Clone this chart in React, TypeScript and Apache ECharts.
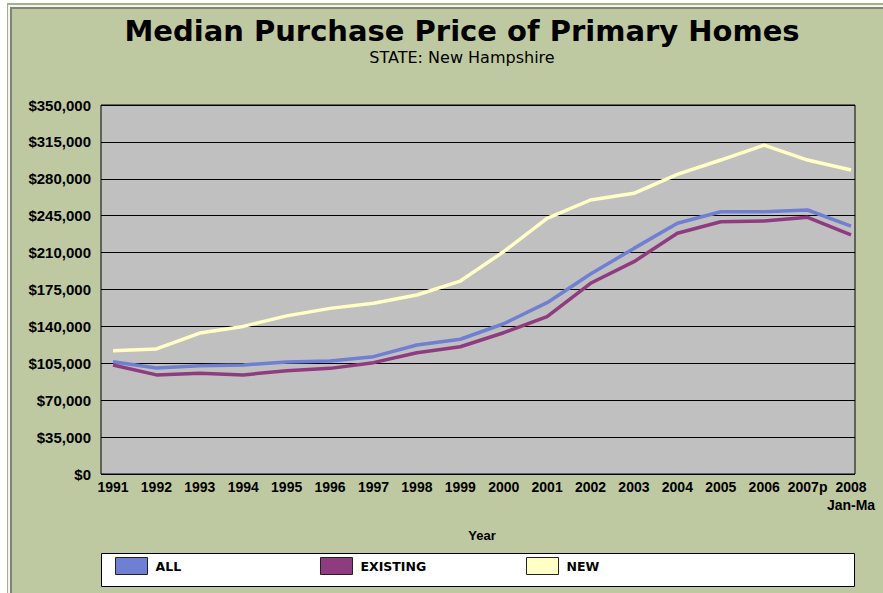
import React, { useEffect, useRef } from "react";
import * as echarts from "echarts";

const categories = ["1991", "1992", "1993", "1994", "1995", "1996", "1997", "1998", "1999", "2000", "2001", "2002", "2003", "2004", "2005", "2006", "2007p", "2008\nJan-Ma"];
const allValues = [106500, 100500, 102700, 103400, 106200, 107200, 111300, 122400, 127800, 142500, 162500, 189700, 214000, 237800, 248800, 248800, 250400, 235200];
const existingValues = [103400, 94000, 95500, 94000, 98000, 100200, 105600, 115000, 120700, 134000, 149200, 180900, 201400, 228300, 239300, 240000, 243500, 226700];
const newValues = [117000, 118600, 133700, 140000, 150000, 157100, 161900, 169800, 183000, 210900, 242500, 259900, 266200, 284200, 297800, 312000, 297800, 288300];
const seriesNames = ["ALL", "EXISTING", "NEW"];
const seriesColors = ["#6f7fd2", "#8e3b7f", "#ffffc6"];
const yMin = 0;
const yMax = 350000;
const yStep = 35000;

export default function App() {
  const ref = useRef<HTMLDivElement>(null);
  useEffect(() => {
    if (!ref.current) return;
    const chart = echarts.init(ref.current, null, { renderer: "svg" });
    const values = [allValues, existingValues, newValues];
    const legendLefts = [115, 320, 526];
    chart.setOption({
      animation: false,
      backgroundColor: "transparent",
      title: {
        text: "Median Purchase Price of Primary Homes",
        subtext: "STATE: New Hampshire",
        left: 462,
        textAlign: "center",
        top: 16,
        padding: 0,
        itemGap: 4,
        textStyle: { fontFamily: "DejaVu Sans", fontWeight: "bold", fontSize: 29, color: "#000" },
        subtextStyle: { fontFamily: "DejaVu Sans", fontSize: 16, color: "#000" },
      },
      grid: [
        { left: 101, top: 105, width: 754, height: 369, show: true, backgroundColor: "#c0c0c0", borderColor: "#000", borderWidth: 1 },
        { left: 113, top: 105, width: 738, height: 369 },
      ],
      xAxis: [
        { type: "value", gridIndex: 0, min: 0, max: 1, show: false },
        {
          type: "category",
          gridIndex: 1,
          boundaryGap: false,
          data: categories,
          axisLine: { show: false },
          axisTick: { show: false },
          axisLabel: { interval: 0, margin: 4, color: "#000", fontFamily: "Liberation Sans", fontWeight: "bold", fontSize: 14, lineHeight: 18 },
          name: "Year",
          nameLocation: "middle",
          nameGap: 55,
          nameTextStyle: { color: "#000", fontFamily: "Liberation Sans", fontWeight: "bold", fontSize: 13 },
        },
      ],
      yAxis: [
        {
          type: "value",
          gridIndex: 0,
          min: yMin,
          max: yMax,
          interval: yStep,
          axisLine: { show: false },
          axisTick: { show: false },
          splitLine: { show: true, lineStyle: { color: "#000", width: 1 } },
          axisLabel: {
            margin: 10,
            color: "#000",
            fontFamily: "Liberation Sans",
            fontWeight: "bold",
            fontSize: 15,
            formatter: (v: number) => "$" + v.toLocaleString("en-US"),
          },
        },
        { type: "value", gridIndex: 1, min: yMin, max: yMax, show: false },
      ],
      legend: seriesNames.map((name, i) => ({
        left: legendLefts[i],
        top: 557,
        padding: 0,
        itemWidth: 32,
        itemHeight: 17,
        icon: "rect",
        data: [name],
        itemStyle: { borderColor: "#222", borderWidth: 1 },
        textStyle: { color: "#000", fontFamily: "DejaVu Sans", fontWeight: "bold", fontSize: 12.5, padding: [9, 0, 0, 3] },
      })),
      graphic: [
        {
          type: "rect",
          shape: { x: 101.5, y: 553.5, width: 753, height: 33 },
          style: { fill: "#fff", stroke: "#000", lineWidth: 1 },
          z: -1,
        },
      ],
      series: seriesNames.map((name, i) => ({
        name,
        type: "line",
        xAxisIndex: 1,
        yAxisIndex: 1,
        data: values[i],
        symbol: "none",
        showSymbol: false,
        color: seriesColors[i],
        itemStyle: { color: seriesColors[i] },
        lineStyle: { color: seriesColors[i], width: 3.5 },
      })),
    });
    return () => chart.dispose();
  }, []);

  return (
    <div style={{ position: "fixed", left: 0, top: 0, width: 883, height: 593, background: "#fff", overflow: "hidden" }}>
      <div style={{ position: "absolute", left: 7, top: 3, right: 0, bottom: 0, background: "#a7af8a" }} />
      <div style={{ position: "absolute", left: 8, top: 5, right: 0, bottom: 0, background: "#f4f6ee" }} />
      <div style={{ position: "absolute", left: 10, top: 7, right: 0, bottom: 0, background: "#7f8478" }} />
      <div style={{ position: "absolute", left: 12, top: 9, right: 0, bottom: 0, background: "#bfc9a1" }} />
      <div ref={ref} style={{ position: "absolute", left: 0, top: 0, width: 883, height: 593 }} />
    </div>
  );
}
